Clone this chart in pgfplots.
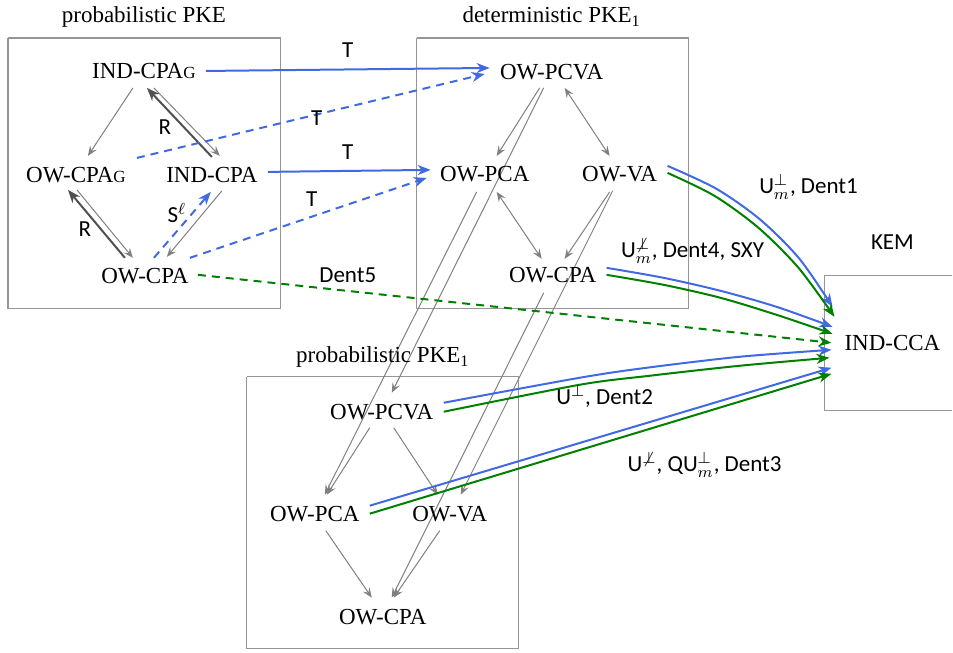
\documentclass[border=0pt]{standalone}
\usepackage{pgfplots}
\pgfplotsset{compat=1.18}
\usepackage{fontspec}
\setmainfont{Liberation Serif}
\setsansfont{Carlito}
\usetikzlibrary{arrows.meta}

\definecolor{myblue}{RGB}{65,105,225}
\definecolor{mygreen}{RGB}{0,128,0}
\definecolor{boxgray}{RGB}{150,150,150}
\definecolor{arrgray}{RGB}{128,128,128}
\definecolor{dark}{RGB}{80,80,80}

\tikzset{
  rm/.style={font=\fontsize{11.5}{13}\selectfont, inner sep=0pt},
  sf/.style={font=\sffamily\fontsize{11.5}{13}\selectfont, inner sep=0pt},
  boxl/.style={draw=boxgray, line width=0.6pt},
  garr/.style={draw=arrgray, line width=0.5pt, -{Stealth[length=5pt,width=4pt,inset=2pt]}},
  gboth/.style={draw=arrgray, line width=0.5pt, {Stealth[length=5pt,width=4pt,inset=2pt]}-{Stealth[length=5pt,width=4pt,inset=2pt]}},
  darr/.style={draw=dark, line width=1pt, -{Stealth[length=6.5pt,width=5pt,inset=2pt]}},
  barr/.style={draw=myblue, line width=1pt, -{Stealth[length=6.5pt,width=5pt,inset=2pt]}},
  grarr/.style={draw=mygreen, line width=1pt, -{Stealth[length=6.5pt,width=5pt,inset=2pt]}},
  dsh/.style={dash pattern=on 4pt off 3pt},
}

\begin{document}
\begin{tikzpicture}
\begin{axis}[
    scale only axis,
    width=476.5pt, height=326.5pt,
    xmin=0, xmax=953, ymin=0, ymax=653,
    y dir=reverse,
    hide axis,
    clip=false,
    no markers,
  ]
  % frame that fixes the picture's size
  \addplot[draw=none] coordinates {(0,0) (953,653)};

  % boxes
  \addplot[boxl] coordinates {(8,38) (281,38) (281,309) (8,309) (8,38)};
  \addplot[boxl] coordinates {(417,38) (689,38) (689,309) (417,309) (417,38)};
  \addplot[boxl] coordinates {(247,377) (519,377) (519,649) (247,649) (247,377)};
  \addplot[boxl] coordinates {(953,276) (825,276) (825,411) (953,411)};

  % probabilistic PKE
  \addplot[garr] coordinates {(133,88) (88,156)};
  \addplot[garr] coordinates {(154,88) (220,156)};
  \addplot[darr] coordinates {(212,157) (147,88)};
  \addplot[darr] coordinates {(125,258) (68,190)};
  \addplot[garr] coordinates {(77,190) (133,258)};
  \addplot[garr] coordinates {(222,191) (167,257)};
  \addplot[barr, dsh] coordinates {(154,258) (211,192)};

  % deterministic PKE1
  \addplot[garr] coordinates {(540,88) (497,156)};
  \addplot[gboth] coordinates {(565,88) (610,156)};
  \addplot[gboth] coordinates {(497,192) (542,259)};
  \addplot[garr] coordinates {(610,192) (565,259)};

  % deterministic -> probabilistic PKE1
  \addplot[garr] coordinates {(544,88) (392,393)};
  \addplot[garr] coordinates {(477,192) (325,495)};
  \addplot[garr] coordinates {(613,191) (461,495)};
  \addplot[garr] coordinates {(544,293) (392,598)};

  % probabilistic PKE1
  \addplot[garr] coordinates {(370,428) (327,495)};
  \addplot[garr] coordinates {(394,428) (438,495)};
  \addplot[garr] coordinates {(326,531) (372,598)};
  \addplot[garr] coordinates {(440,531) (394,598)};

  % T arrows
  \addplot[barr] coordinates {(206,71) (490,68)};
  \addplot[barr, dsh] coordinates {(137,158) (485,74)};
  \addplot[barr] coordinates {(268,172) (431,170)};
  \addplot[barr, dsh] coordinates {(190,258) (427,178)};

  % Dent5
  \addplot[grarr, dsh] coordinates {(198,275) (832,343)};

  % Dent1
  \addplot[barr, smooth] coordinates {(668,166) (717,189) (761,220) (800,259) (833,307)};
  \addplot[grarr, smooth] coordinates {(668,173) (715,196) (759,228) (799,268) (835,317)};
  % Dent4
  \addplot[barr, smooth] coordinates {(607,268) (664,278) (721,291) (777,307) (833,327)};
  \addplot[grarr, smooth] coordinates {(607,275) (664,285) (721,298) (777,315) (833,334)};
  % Dent2
  \addplot[barr, smooth] coordinates {(444,403) (580,378) (647,368) (740,357) (832,350)};
  \addplot[grarr, smooth] coordinates {(444,412) (580,385) (650,376) (740,366) (830,358)};
  % Dent3
  \addplot[barr] coordinates {(370,506) (832,368)};
  \addplot[grarr] coordinates {(370,514) (832,374)};

  % titles
  \node[rm, anchor=base] at (144,23) {probabilistic PKE};
  \node[rm, anchor=base] at (552,23) {deterministic PKE\textsubscript{1}};
  \node[rm, anchor=base] at (383,363) {probabilistic PKE\textsubscript{1}};
  \node[sf] at (893,242) {KEM};

  % scheme nodes
  \node[rm] at (144,71) {IND-CPA{\fontsize{8.5}{9}\selectfont G}};
  \node[rm] at (76,175) {OW-CPA{\fontsize{8.5}{9}\selectfont G}};
  \node[rm] at (212,175) {IND-CPA};
  \node[rm] at (145,276) {OW-CPA};
  \node[rm] at (552,72) {OW-PCVA};
  \node[rm] at (485,174) {OW-PCA};
  \node[rm] at (620,174) {OW-VA};
  \node[rm] at (553,275) {OW-CPA};
  \node[rm] at (382,412) {OW-PCVA};
  \node[rm] at (315,514) {OW-PCA};
  \node[rm] at (450,514) {OW-VA};
  \node[rm] at (383,617) {OW-CPA};
  \node[rm] at (893,343) {IND-CCA};

  % edge labels
  \node[sf] at (348,50) {T};
  \node[sf] at (317,118) {T};
  \node[sf] at (348,152) {T};
  \node[sf] at (312,199) {T};
  \node[sf] at (165,127) {R};
  \node[sf] at (85,229) {R};
  \node[sf, anchor=base] at (177,223) {S$^{\ell}$};
  \node[sf] at (348,275) {Dent5};
  \node[sf, anchor=base] at (809,194) {U$^{\perp}_{m}$, Dent1};
  \node[sf, anchor=base] at (693,258) {U$^{\not\perp}_{m}$, Dent4, SXY};
  \node[sf, anchor=base] at (605,405) {U$^{\perp}$, Dent2};
  \node[sf, anchor=base] at (705,472) {U$^{\not\perp}$, QU$^{\perp}_{m}$, Dent3};
\end{axis}
\end{tikzpicture}
\end{document}
